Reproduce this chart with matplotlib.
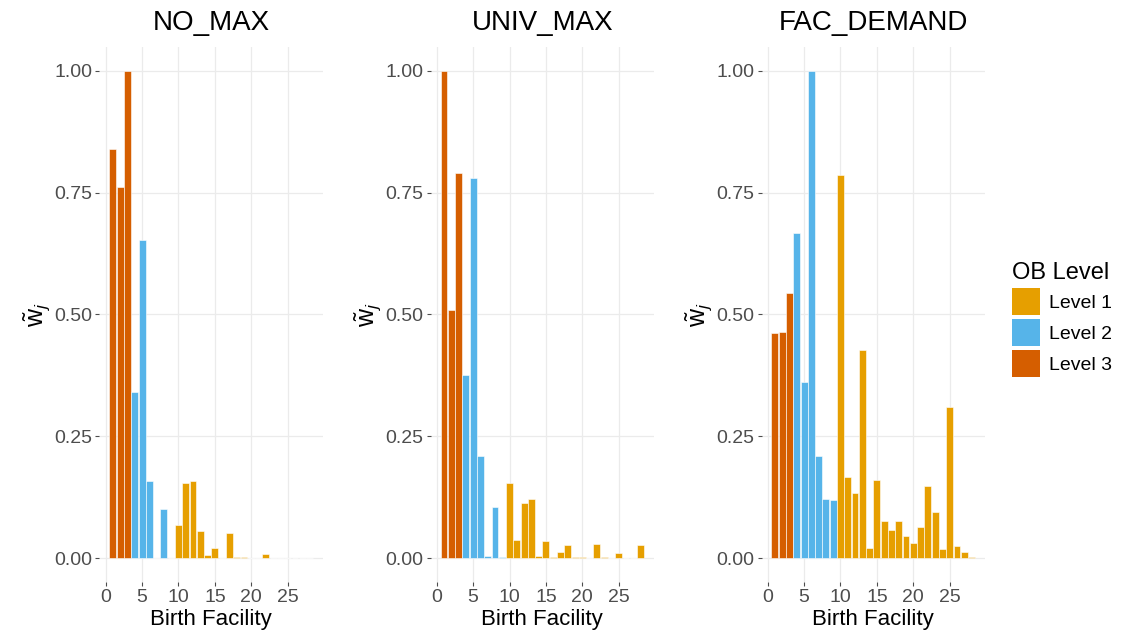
import matplotlib.pyplot as plt
from matplotlib.patches import Patch

plt.rcParams['font.family'] = ['Liberation Sans', 'DejaVu Sans']
plt.rcParams['mathtext.fontset'] = 'custom'
plt.rcParams['mathtext.rm'] = 'Liberation Sans'
plt.rcParams['mathtext.it'] = 'Liberation Sans:italic'

# birth facilities and their OB level
facility = list(range(1, 29))
ob_level = [3, 3, 3, 2, 2, 2, 2, 2, 2, 1, 1, 1, 1, 1, 1, 1, 1, 1, 1, 1, 1, 1, 1, 1, 1, 1, 1, 1]

# normalized weights per scenario
w_no_max = [0.839, 0.762, 1.000, 0.341, 0.653, 0.158, 0.0, 0.100, 0.0,
            0.068, 0.153, 0.158, 0.055, 0.007, 0.021, 0.0, 0.051, 0.003, 0.003,
            0.0, 0.0, 0.008, 0.0, 0.0, 0.0, 0.0, 0.0, 0.0]
w_univ_max = [1.000, 0.509, 0.791, 0.376, 0.781, 0.209, 0.005, 0.104, 0.003,
              0.155, 0.037, 0.112, 0.121, 0.005, 0.035, 0.003, 0.012, 0.026, 0.003,
              0.003, 0.0, 0.029, 0.003, 0.0, 0.010, 0.0, 0.0, 0.026]
w_fac_demand = [0.461, 0.463, 0.545, 0.667, 0.361, 1.000, 0.209, 0.122, 0.119,
                0.787, 0.167, 0.133, 0.427, 0.021, 0.160, 0.076, 0.057, 0.076, 0.046,
                0.031, 0.064, 0.148, 0.094, 0.018, 0.311, 0.025, 0.012, 0.003]

scenarios = ['NO_MAX', 'UNIV_MAX', 'FAC_DEMAND']
weights = [w_no_max, w_univ_max, w_fac_demand]
level_names = ['Level 1', 'Level 2', 'Level 3']
level_colors = {1: '#E69F00', 2: '#56B4E9', 3: '#D55E00'}

fig = plt.figure(figsize=(11.23, 6.44), dpi=100)
lefts = [0.0886, 0.3834, 0.6781]
bar_colors = [level_colors[l] for l in ob_level]

for left, name, w in zip(lefts, scenarios, weights):
    ax = fig.add_axes([left, 0.0957, 0.199, 0.832])
    ax.bar(facility, w, width=0.95, color=bar_colors, edgecolor='white', linewidth=0.4, zorder=2)
    ax.set_xlim(-0.845, 29.845)
    ax.set_ylim(-0.05, 1.05)
    ax.set_xticks([0, 5, 10, 15, 20, 25])
    ax.set_yticks([0, 0.25, 0.5, 0.75, 1.0])
    ax.set_yticklabels(['0.00', '0.25', '0.50', '0.75', '1.00'])
    ax.grid(True, color='#EBEBEB', linewidth=0.9, zorder=0)
    ax.set_axisbelow(True)
    for s in ax.spines.values():
        s.set_visible(False)
    ax.tick_params(axis='both', labelsize=14, labelcolor='#4D4D4D', color='#4D4D4D',
                   length=3, width=0.8, pad=2)
    ax.set_title(name, fontsize=20, pad=12)
    ax.set_xlabel('Birth Facility', fontsize=16, labelpad=2)
    ax.set_ylabel(r'$\tilde{\mathrm{w}}_{j}$', fontsize=18, labelpad=2)

handles = [Patch(facecolor=level_colors[k], edgecolor='none') for k in (1, 2, 3)]
fig.legend(handles, level_names, title='OB Level', loc='upper left',
           bbox_to_anchor=(1004 / 1123, 1 - 254 / 644), frameon=False,
           fontsize=14, title_fontsize=17, handlelength=1.45, handleheight=1.75,
           labelspacing=0.22, handletextpad=0.45, alignment='left', borderaxespad=0)

fig.savefig('out.png', dpi=100)
